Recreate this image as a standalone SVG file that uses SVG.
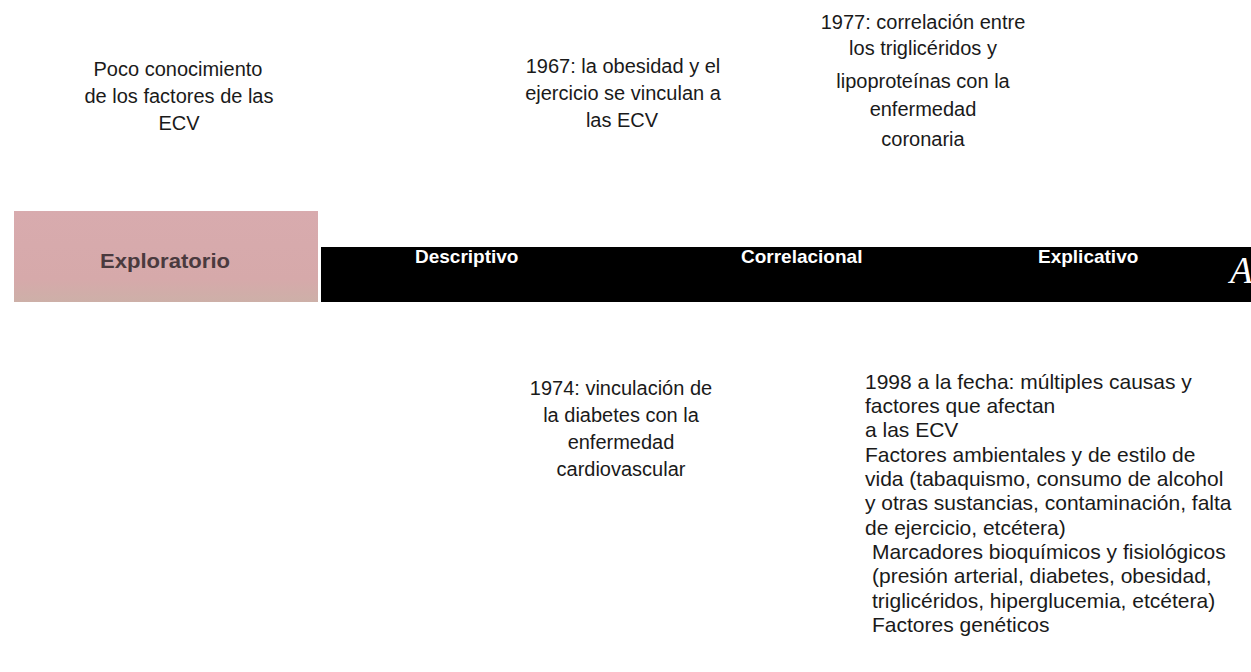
<svg xmlns="http://www.w3.org/2000/svg" width="1251" height="672" viewBox="0 0 1251 672">
<style>
.t{font-family:"Liberation Sans",Arial,sans-serif;font-size:20px;fill:#1a1a1a}
.c{text-anchor:middle}
.b{font-family:"Liberation Sans",Arial,sans-serif;font-size:19px;font-weight:bold;fill:#ffffff}
.l{font-family:"Liberation Sans",Arial,sans-serif;font-size:21px;fill:#1a1a1a}
</style>
<defs>
<linearGradient id="pink" x1="0" y1="0" x2="0" y2="1">
<stop offset="0" stop-color="#d8abae"/>
<stop offset="0.75" stop-color="#d6a9aa"/>
<stop offset="1" stop-color="#cdb0a8"/>
</linearGradient>
</defs>
<rect width="1251" height="672" fill="#ffffff"/>
<g id="timeline">
<rect x="14" y="211" width="304" height="91" fill="url(#pink)"/>
<text x="165" y="268" text-anchor="middle" font-family="Liberation Sans, Arial, sans-serif" font-size="20" font-weight="bold" fill="#4a3a3e" textLength="130" lengthAdjust="spacingAndGlyphs">Exploratorio</text>
<rect x="321" y="247" width="930" height="55" fill="#000000"/>
<text class="b" x="415" y="263">Descriptivo</text>
<text class="b" x="741" y="263">Correlacional</text>
<text class="b" x="1038" y="263">Explicativo</text>
<text x="1230" y="283" font-family="Liberation Serif, serif" font-style="italic" font-size="37" fill="#ffffff">A</text>
</g>
<g id="n-poco">
<text class="t c" x="178" y="76">Poco conocimiento</text>
<text class="t c" x="179" y="103">de los factores de las</text>
<text class="t c" x="179" y="130">ECV</text>
</g>
<g id="n-1967">
<text class="t c" x="623" y="73">1967: la obesidad y el</text>
<text class="t c" x="623" y="100">ejercicio se vinculan a</text>
<text class="t c" x="622" y="127">las ECV</text>
</g>
<g id="n-1977">
<text class="t c" x="923" y="29">1977: correlación entre</text>
<text class="t c" x="923" y="55">los triglicéridos y</text>
<text class="t c" x="923" y="88">lipoproteínas con la</text>
<text class="t c" x="923" y="116">enfermedad</text>
<text class="t c" x="923" y="146">coronaria</text>
</g>
<g id="n-1974">
<text class="t c" x="621" y="395">1974: vinculación de</text>
<text class="t c" x="621" y="422">la diabetes con la</text>
<text class="t c" x="621" y="449">enfermedad</text>
<text class="t c" x="621" y="476">cardiovascular</text>
</g>
<g id="n-1998">
<text class="l" x="865" y="389">1998 a la fecha: múltiples causas y</text>
<text class="l" x="865" y="413">factores que afectan</text>
<text class="l" x="865" y="437">a las ECV</text>
<text class="l" x="865" y="462">Factores ambientales y de estilo de</text>
<text class="l" x="865" y="486">vida (tabaquismo, consumo de alcohol</text>
<text class="l" x="865" y="510">y otras sustancias, contaminación, falta</text>
<text class="l" x="865" y="535">de ejercicio, etcétera)</text>
<text class="l" x="872" y="559">Marcadores bioquímicos y fisiológicos</text>
<text class="l" x="872" y="583">(presión arterial, diabetes, obesidad,</text>
<text class="l" x="872" y="608">triglicéridos, hiperglucemia, etcétera)</text>
<text class="l" x="872" y="632">Factores genéticos</text>
</g>
<g id="connectors"></g>
</svg>
